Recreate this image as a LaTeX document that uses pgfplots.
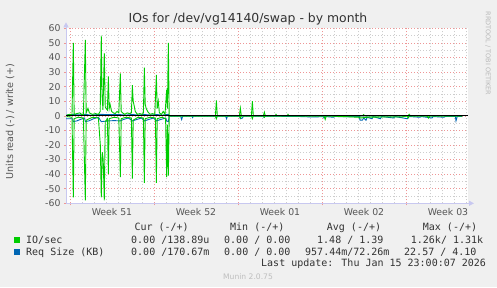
\documentclass[border=0pt]{standalone}
\usepackage{fontspec}
\setmainfont{DejaVu Sans}
\newfontfamily\mono{DejaVu Sans Mono}
\usepackage{pgfplots}
\pgfplotsset{compat=1.18}
\usetikzlibrary{arrows.meta}
\definecolor{bgc}{RGB}{240,240,240}
\definecolor{gridred}{RGB}{238,150,150}
\definecolor{gridgray}{RGB}{205,205,205}
\definecolor{axiscol}{RGB}{200,200,240}
\definecolor{ioc}{RGB}{0,204,0}
\definecolor{reqc}{RGB}{0,102,179}
\definecolor{tickc}{RGB}{85,85,85}
\definecolor{txtc}{RGB}{50,50,50}
\begin{document}
\begin{tikzpicture}
\fill[bgc] (0pt,0pt) rectangle (497pt,287pt);
\useasboundingbox (0pt,0pt) rectangle (497pt,287pt);
\begin{axis}[
  at={(66pt,83.7pt)}, anchor=south west,
  scale only axis, width=402pt, height=175pt,
  xmin=0, xmax=33.5, ymin=-60, ymax=60,
  axis x line=bottom, axis y line=left,
  axis line style={draw=axiscol, line width=0.8pt, -{Triangle[length=5pt,width=5pt]}},
  x axis line style={shorten >=-6pt},
  y axis line style={shorten >=-6pt},
  axis background/.style={fill=white},
  xtick={0.33,7.33,14.33,21.33,28.33}, xticklabels={},
  minor xtick={1.33,2.33,3.33,4.33,5.33,6.33,8.33,9.33,10.33,11.33,12.33,13.33,15.33,16.33,17.33,18.33,19.33,20.33,22.33,23.33,24.33,25.33,26.33,27.33,29.33,30.33,31.33,32.33,33.33},
  ytick={-60,-50,-40,-30,-20,-10,0,10,20,30,40,50,60},
  yticklabels={-60,-50,-40,-30,-20,-10,0,10,20,30,40,50,60},
  minor ytick={-55,-45,-35,-25,-15,-5,5,15,25,35,45,55},
  grid=both,
  major grid style={draw=gridred, line width=0.6pt, dash pattern=on 1pt off 2pt},
  minor grid style={draw=gridgray, line width=0.6pt, dash pattern=on 1pt off 2pt},
  tick align=outside, major tick length=2pt, minor tick length=0pt,
  major tick style={draw=gridred, line width=0.6pt},
  minor tick style={draw=none},
  extra x ticks={3.83,10.83,17.83,24.83,31.83},
  extra x tick labels={Week 51,Week 52,Week 01,Week 02,Week 03},
  extra x tick style={grid=none, major tick length=0pt, tick style={draw=none}},
  tick label style={font=\fontsize{9.33}{11}\selectfont, text=tickc},
  xticklabel style={yshift=-1.5pt},
  yticklabel style={xshift=0pt},
  clip=true,
]
% Req Size write (+)
\addplot[reqc, line width=0.9pt] coordinates {
(0.0,0.3) (0.61,1) (1.0,0.6) (1.61,1) (2.0,0.5) (2.94,1) (3.5,0.8) (4.53,0.8) (5.0,0.5) (5.53,0.9) (6.0,0.5) (6.53,0.9) (7.0,0.5) (7.53,0.9) (8.0,0.5) (8.53,1) (8.6,0) (33.0,0)
};
% Req Size read (-)
\addplot[reqc, line width=0.9pt] coordinates {
(0.0,-2) (0.55,-2) (0.61,-4) (0.9,-3.5) (1.2,-2.5) (1.55,-1.5) (1.61,-4) (1.9,-3.5) (2.3,-2) (2.7,-1) (2.94,-4) (3.5,-3.5) (4.0,-3.3) (4.53,-3.5) (4.8,-2.5) (5.2,-1.5) (5.53,-3.5) (5.9,-2.5) (6.3,-1.5) (6.53,-3.5) (6.9,-2.5) (7.3,-1.5) (7.53,-3.5) (7.9,-2.5) (8.3,-1.5) (8.39,-3.5) (8.53,-4) (8.6,-0.2)
(9.55,-0.2) (9.64,-2.5) (9.72,-0.2) (10.5,-0.2) (10.55,-1.2) (10.62,-0.2) (12.45,-0.2) (12.53,-1.5) (12.6,-0.2) (13.3,-0.2) (13.38,-2) (13.45,-0.2) (14.45,-0.2) (14.53,-2) (14.7,-1.5) (14.8,-0.2) (16.45,-0.2) (16.5,-1) (16.6,-0.2) (19.5,-0.5) (20.5,-0.8) (21.45,-0.6) (21.5,-1.5) (21.6,-0.5) (22.3,-1) (22.4,-0.5) (24.45,-0.6) (24.5,-3) (24.7,-3) (24.8,-1.5) (25.0,-3) (25.1,-1) (25.5,-2) (25.6,-0.5) (26.2,-2) (26.3,-0.5) (27.3,-1.5) (27.4,-0.5) (28.45,-2) (28.55,-1) (28.6,-0.5) (29.5,-1) (29.6,-0.5) (30.5,-1.5) (30.6,-0.5) (31.5,-1) (31.6,-0.5) (32.45,-0.5) (32.5,-3.5) (32.6,-0.5) (33.0,-0.5)
};
% IO/sec write (+)
\addplot[ioc, line width=0.9pt] coordinates {
(0.05,0.5) (0.3,1) (0.5,0.8) (0.61,50) (0.68,1) (0.9,1.5) (1.15,2) (1.3,1) (1.45,1) (1.61,52) (1.68,2) (1.83,5) (1.95,2) (2.2,1) (2.45,1.5) (2.7,1) (2.85,3) (2.94,55) (3.0,15) (3.08,4) (3.19,43) (3.27,6) (3.36,5) (3.45,4) (3.53,27) (3.6,5) (3.67,8) (3.8,3) (3.95,2) (4.1,1.5) (4.25,3) (4.4,2) (4.53,29) (4.6,3) (4.72,2) (4.9,1) (5.1,2) (5.3,1.5) (5.45,2) (5.53,21) (5.6,10) (5.68,7) (5.77,3) (5.95,1) (6.15,1.5) (6.35,1) (6.45,2) (6.53,33) (6.6,8) (6.68,5) (6.8,3) (7.0,1) (7.2,1.5) (7.4,1) (7.53,28) (7.6,5) (7.69,10) (7.78,2) (7.95,1) (8.1,3) (8.25,1) (8.39,18) (8.45,5) (8.53,50) (8.6,0)
(12.45,0) (12.53,10.5) (12.61,0) (14.45,0) (14.53,5.2) (14.61,0) (15.45,0) (15.53,10) (15.61,0) (16.45,0) (16.53,2.5) (16.61,0) (17.45,0) (17.5,1) (17.58,0) (18.45,0) (18.5,1) (18.58,0) (24.7,0) (24.8,0.8) (24.9,0) (28.5,0) (28.6,1) (28.7,0) (33.0,0)
};
% IO/sec read (-)
\addplot[ioc, line width=0.9pt] coordinates {
(0.05,-0.5) (0.5,-1) (0.61,-56) (0.68,-2) (1.0,-1) (1.45,-1.5) (1.61,-58) (1.68,-3) (2.2,-1) (2.7,-1.5) (2.86,-20) (2.94,-56) (3.02,-25) (3.1,-30) (3.19,-58) (3.27,-4) (3.45,-2) (3.53,-40) (3.6,-2) (4.0,-1) (4.4,-1.5) (4.53,-42) (4.6,-2) (5.0,-1) (5.45,-1.5) (5.53,-43) (5.6,-3) (6.0,-1) (6.45,-1.5) (6.53,-46) (6.6,-2) (7.0,-1) (7.45,-1.5) (7.53,-46) (7.6,-2) (8.0,-1) (8.3,-2) (8.39,-42) (8.45,-6) (8.53,-41) (8.6,0)
(12.45,0) (12.53,-2) (12.61,0) (14.45,0) (14.53,-1.5) (14.61,0) (15.45,0) (15.53,-2) (15.61,0) (16.45,0) (16.53,-1) (16.61,0) (21.5,0) (21.6,-2.5) (21.7,0) (24.4,-1) (24.5,-1.5) (25.1,-1) (26.5,-0.8) (28.0,-0.8) (28.45,0) (28.5,-1.5) (28.6,0) (30.1,0) (30.2,-1.5) (30.3,0) (33.0,0)
};
% zero line
\addplot[black, line width=1pt] coordinates {(0,0) (33.5,0)};
\end{axis}
% title and labels
\node[text=txtc, font=\fontsize{12.4}{14}\selectfont] at (248pt,267.7pt) {IOs for /dev/vg14140/swap - by month};
\node[text=tickc, font=\fontsize{9.6}{11}\selectfont, rotate=90] at (10pt,165.3pt) {Units read (-) / write (+)};
\node[text={rgb,255:red,185;green,185;blue,185}, font=\fontsize{6.5}{8}\selectfont, rotate=-90] at (488pt,233.5pt) {RRDTOOL / TOBI OETIKER};
% legend
\begin{scope}[every node/.style={inner sep=0pt, anchor=base west, text=txtc, font=\mono\fontsize{10}{12}\selectfont}]
\node at (134.3pt,56.05pt) {Cur (-/+)};
\node at (230pt,56.05pt) {Min (-/+)};
\node at (326.7pt,56.05pt) {Avg (-/+)};
\node at (422.7pt,56.05pt) {Max (-/+)};
\node at (26pt,43.65pt) {IO/sec};
\node at (131pt,43.65pt) {0.00 /138.89u};
\node at (224pt,43.65pt) {0.00 / 0.00};
\node at (317pt,43.65pt) {1.48 / 1.39};
\node at (410.7pt,43.65pt) {1.26k/ 1.31k};
\node at (26pt,31.65pt) {Req Size (KB)};
\node at (131pt,31.65pt) {0.00 /170.67m};
\node at (224pt,31.65pt) {0.00 / 0.00};
\node at (305pt,31.65pt) {957.44m/72.26m};
\node at (404pt,31.65pt) {22.57 / 4.10};
\node at (261pt,20.05pt) {Last update: Thu Jan 15 23:00:07 2026};
\end{scope}
\fill[ioc] (14pt,44.3pt) rectangle (20pt,49.7pt);
\fill[reqc] (14pt,32.3pt) rectangle (20pt,37.7pt);
\node[text={rgb,255:red,190;green,190;blue,190}, font=\fontsize{7.6}{9}\selectfont] at (248pt,10.7pt) {Munin 2.0.75};
\end{tikzpicture}
\end{document}
